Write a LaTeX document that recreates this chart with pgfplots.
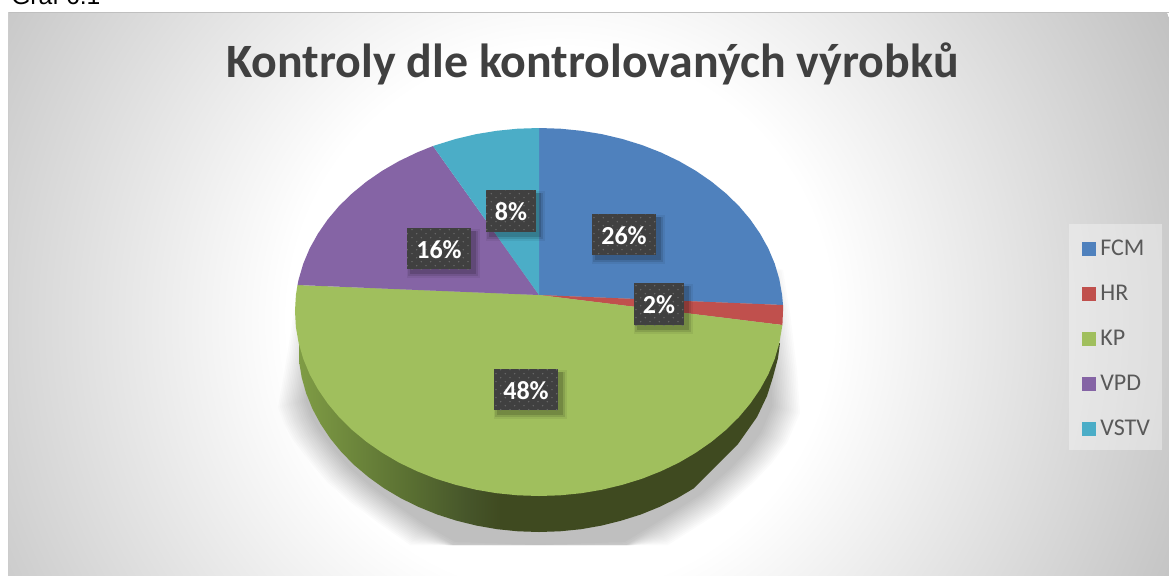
\documentclass[border=0pt]{standalone}
\usepackage{pgfplots}
\usepackage{pgfplotstable}
\pgfplotsset{compat=1.18}
\usepackage{fontspec}
\setmainfont{Carlito}
\newfontfamily\arialf{Liberation Sans}
\usetikzlibrary{patterns}
\definecolor{cFCM}{HTML}{4F81BD}
\definecolor{cHR}{HTML}{C0504D}
\definecolor{cKP}{HTML}{A0BF5D}
\definecolor{cVPD}{HTML}{8564A5}
\definecolor{cVSTV}{HTML}{4BADC7}
\definecolor{sideA}{HTML}{7F9C45}
\definecolor{sideB}{HTML}{5A7032}
\definecolor{sideD}{HTML}{46552A}
\definecolor{sideC}{HTML}{3F4A20}
\definecolor{labbg}{HTML}{404040}
\definecolor{titlec}{HTML}{404040}
\definecolor{legt}{HTML}{595959}
\pgfdeclarehorizontalshading{sideg}{100bp}{color(0bp)=(sideA); color(25bp)=(sideA); color(36.4bp)=(sideB); color(42.6bp)=(sideD); color(46bp)=(sideC); color(100bp)=(sideC)}
\pgfdeclareradialshading{plate}{\pgfpoint{0bp}{0bp}}{color(0bp)=(white); color(10bp)=(white); color(25bp)=(black!24); color(50bp)=(black!24)}
\pgfdeclarepatternformonly{labdots}{\pgfqpoint{-1pt}{-1pt}}{\pgfqpoint{8pt}{7pt}}{\pgfqpoint{7pt}{6pt}}{%
  \pgfpathcircle{\pgfqpoint{1pt}{1pt}}{.6pt}\pgfpathcircle{\pgfqpoint{4.5pt}{4pt}}{.6pt}\pgfusepath{fill}}
\newcommand{\lab}[7]{%
  \fill[black,opacity=.06] ([xshift=0pt,yshift=-1pt]axis cs:#1,#2) rectangle ([xshift=7pt,yshift=-7pt]axis cs:#3,#4);
  \fill[black,opacity=.10] ([xshift=1pt,yshift=-2pt]axis cs:#1,#2) rectangle ([xshift=5.5pt,yshift=-5.5pt]axis cs:#3,#4);
  \fill[black,opacity=.14] ([xshift=2pt,yshift=-2pt]axis cs:#1,#2) rectangle ([xshift=4pt,yshift=-4pt]axis cs:#3,#4);
  \fill[labbg] (axis cs:#1,#2) rectangle (axis cs:#3,#4);
  \fill[pattern=labdots,pattern color=white!22!labbg] (axis cs:#1,#2) rectangle (axis cs:#3,#4);
  \node[text=white,font=\fontsize{19.5pt}{22pt}\selectfont\bfseries,inner sep=0pt] at (axis cs:#5,#6) {#7};
}
\pgfplotstableread{
x y
294 310
288 350
282 385
278 407
284 424
293 440
310 462
327 482
350 502
377 522
410 545
445 565
539 590
635 565
668 545
687 533
720 512
753 483
772 463
787 443
800 413
797 370
790 313
783 270
539 200
}\shadowpts
\begin{document}
\begin{tikzpicture}
\begin{axis}[
  scale only axis, width=876.75pt, height=431.25pt,
  xmin=0, xmax=1169, ymin=0, ymax=575, y dir=reverse,
  axis lines=none, clip=false,
  legend style={at={(0.9145,0.6043)},anchor=north west,draw=none,fill=none,
    font=\fontsize{18pt}{19pt}\selectfont\color{legt},inner xsep=9.25pt,inner ysep=7pt,
    /tikz/every even column/.append style={column sep=2pt},row sep=16.7pt},
  legend cell align=left,
  legend image code/.code={\fill[#1] (0pt,-5.25pt) rectangle (10.5pt,5.25pt);\path (12pt,0pt);},
]
\coordinate (PA) at (axis cs:0,575);
\coordinate (PB) at (axis cs:1169,0);
% plate
\begin{scope}
\clip (axis cs:8,12) rectangle (axis cs:1169,575);
\path[shading=plate] (axis cs:560,320) circle[radius=510pt];
\draw[black!25,line width=1.4pt] (axis cs:8,12.5) -- (axis cs:1169,12.5);
\draw[black!20,line width=.8pt] (axis cs:8.5,12) -- (axis cs:8.5,575);
\end{scope}
\fill[white,opacity=.35] (axis cs:1069,224) rectangle (axis cs:1162,450);
\node[overlay,anchor=base west,inner sep=0pt,font=\fontsize{18.5pt}{20pt}\selectfont\arialf] at (axis cs:11,4) {Graf 6.1};
\node[font=\fontsize{35.9pt}{40pt}\selectfont\bfseries,text=titlec,inner sep=0pt,anchor=base] at (axis cs:592.5,77) {Kontroly dle kontrolovaných výrobků};
% shadow
\pgfplotsinvokeforeach{1.00,0.993,0.986,0.979,0.972,0.965,0.958,0.951,0.944,0.937,0.93,0.923,0.916,0.909,0.902,0.895}{
  \addplot[draw=none,fill=black,fill opacity=.015,forget plot] table[x expr={539+(\thisrow{x}-539)*#1},y expr={min(545,345+(\thisrow{y}-345)*#1)}] {\shadowpts} -- cycle;
}
% side
\addplot[draw=none,shade,shading=sideg,forget plot] coordinates {
(299,345)(299,361)(301.7,377.5)(306.2,393.4)(312.5,409)(320.6,424)(330.3,438.5)(341.6,452.3)(354.4,465.2)(368.6,477.2)(384.1,488.3)(400.8,498.2)(418.5,506.9)(437.2,514.5)(456.6,520.7)(476.6,525.6)(497.2,529.2)(518,531.3)(539,532)(560,531.3)(581,529.2)(601.4,525.6)(621,520.7)(640.8,514.5)(659.5,506.9)(677.2,498.2)(693.9,488.3)(709,473)(724,458)(738,444)(757,417)(767,396)(773,377)(778,358)(780,343)
} -- cycle;
% FCM
\addplot[draw=none,fill=cFCM] coordinates {(539,295)(539,128)(560.3,128.7)(581.4,130.8)(602.1,134.2)(622.4,139)(642.1,145.1)(661,152.5)(679,161.1)(695.8,170.8)(711.5,181.6)(725.9,193.4)(738.9,206)(750.3,219.5)(760.1,233.7)(768.3,248.4)(774.7,263.6)(779.3,279.2)(782.1,295)(783,305)} -- cycle;
% HR
\addplot[draw=none,fill=cHR] coordinates {(539,295)(783,305)(783,311)(782.4,325)} -- cycle;
% KP
\addplot[draw=none,fill=cKP] coordinates {(539,295)(782.4,325)(779.3,343.1)(774.7,358.9)(768.3,374.3)(760.1,389.2)(750.3,403.5)(738.9,417.1)(725.9,429.9)(711.5,441.8)(695.8,452.7)(679,462.6)(661,471.2)(642.1,478.7)(622.4,484.8)(602.1,489.7)(581.4,493.2)(560.3,495.3)(539,496)(517.7,495.3)(496.6,493.2)(475.9,489.7)(455.6,484.8)(435.9,478.7)(417,471.2)(399,462.6)(382.2,452.7)(366.5,441.8)(352.1,429.9)(339.1,417.1)(327.7,403.5)(317.9,389.2)(309.7,374.3)(303.3,358.9)(298.7,343.1)(295.9,327.1)(295,311)(295.9,295)(297.5,285)} -- cycle;
% VPD
\addplot[draw=none,fill=cVPD] coordinates {(539,295)(297.5,285)(298.7,279.2)(303.3,263.6)(309.7,248.4)(317.9,233.7)(327.7,219.5)(339.1,206)(352.1,193.4)(366.5,181.6)(382.2,170.8)(399,161.1)(417,152.5)(433,146)} -- cycle;
% VSTV
\addplot[draw=none,fill=cVSTV] coordinates {(539,295)(433,146)(455.6,139)(475.9,134.2)(496.6,130.8)(517.7,128.7)(539,128)} -- cycle;
\legend{FCM,HR,KP,VPD,VSTV}
\lab{592}{214}{656}{255}{624}{236}{26\%}
\lab{634}{283}{684}{325}{659}{305}{2\%}
\lab{494}{369}{558}{410}{526}{391}{48\%}
\lab{407}{228}{471}{269}{439}{250}{16\%}
\lab{486}{190}{536}{232}{511}{212}{8\%}
\end{axis}
\pgfresetboundingbox
\path[use as bounding box] (PA) rectangle (PB);
\end{tikzpicture}
\end{document}
